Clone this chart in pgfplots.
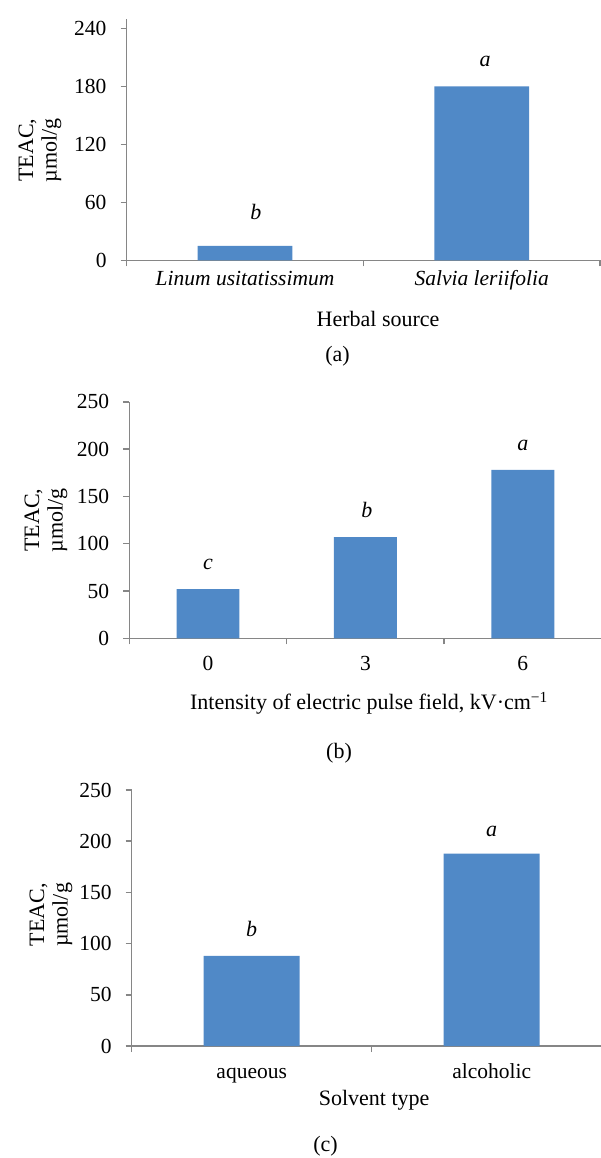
\documentclass[border=0pt]{standalone}
\usepackage{fontspec}
\setmainfont{Liberation Serif}
\usepackage{pgfplots}
\pgfplotsset{compat=1.18}
\definecolor{barblue}{RGB}{80,137,199}
\definecolor{axgray}{RGB}{134,134,134}
\pgfplotsset{
  panel/.style={
    scale only axis,
    axis x line*=bottom,
    axis y line*=left,
    axis line style={draw=axgray, line width=1.5pt},
    every tick/.style={draw=axgray, line width=1.5pt},
    tick align=outside,
    major tick length=6pt,
    minor tick length=6pt,
    ybar, bar width=0.4,
    ymin=0, xmin=-0.5,
    major x tick style={draw=none},
    clip=false,
    /pgf/number format/assume math mode=true,
    tick label style={font=\fontsize{21.5}{24}\selectfont},
    label style={font=\fontsize{22}{23.5}\selectfont},
    xticklabel style={anchor=base, inner sep=0pt},
    yticklabel style={anchor=east, inner sep=0pt, xshift=-14pt},
    ylabel style={align=center, anchor=center},
    xlabel style={anchor=base},
  },
}
\begin{document}
\fontsize{22}{24}\selectfont
\begin{tikzpicture}[x=1pt,y=1pt]
\useasboundingbox (0,0) rectangle (600,-1158);
% ---------- (a)
\begin{axis}[panel,
  at={(126.7pt,-260.3pt)}, anchor=south west,
  width=473.4pt, height=241.7pt,
  ymax=250, ytick={0,60,120,180,240},
  xmax=1.5, xtick={0,1}, minor xtick={-0.5,0.5,1.5},
  xticklabels={\textit{Linum usitatissimum},\textit{Salvia leriifolia}},
  xticklabel style={yshift=-18.7pt},
  xlabel={Herbal source},
  xlabel style={at={(axis description cs:0.531,-0.272)}},
  ylabel={TEAC,\\µmol/g},
  ylabel style={at={(axis description cs:-0.183,0.456)}},
]
\addplot[fill=barblue, draw=none] coordinates {(0,15) (1,180)};
\node[anchor=base, font=\itshape] at (axis cs:0.046,42.7) {b};
\node[anchor=base, font=\itshape] at (axis cs:1.014,200.3) {a};
\end{axis}
\node[anchor=base] at (337.5pt,-361.7pt) {(a)};
% ---------- (b)
\begin{axis}[panel,
  at={(129.3pt,-638.3pt)}, anchor=south west,
  width=472.2pt, height=236.5pt,
  ymax=250, ytick={0,50,100,150,200,250},
  xmax=2.5, xtick={0,1,2}, minor xtick={-0.5,0.5,1.5,2.5},
  xticklabels={0,3,6},
  xticklabel style={yshift=-26.4pt},
  xlabel={Intensity of electric pulse field, kV·cm\textsuperscript{−1}},
  xlabel style={at={(axis description cs:0.5076,-0.303)}},
  ylabel={TEAC,\\µmol/g},
  ylabel style={at={(axis description cs:-0.1764,0.500)}},
]
\addplot[fill=barblue, draw=none] coordinates {(0,52) (1,107) (2,178)};
\node[anchor=base, font=\itshape] at (axis cs:0,73) {c};
\node[anchor=base, font=\itshape] at (axis cs:1.01,128) {b};
\node[anchor=base, font=\itshape] at (axis cs:2,199) {a};
\end{axis}
\node[anchor=base] at (339pt,-758pt) {(b)};
% ---------- (c)
\begin{axis}[panel,
  at={(131.7pt,-1046pt)}, anchor=south west,
  width=480pt, height=256pt,
  ymax=250, ytick={0,50,100,150,200,250},
  xmax=1.5, xtick={0,1}, minor xtick={-0.5,0.5,1.5},
  xticklabels={aqueous,alcoholic},
  xticklabel style={yshift=-26.3pt},
  xlabel={Solvent type},
  xlabel style={at={(axis description cs:0.505,-0.2305)}},
  ylabel={TEAC,\\µmol/g},
  ylabel style={at={(axis description cs:-0.168,0.512)}},
]
\addplot[fill=barblue, draw=none] coordinates {(0,88) (1,188)};
\node[anchor=base, font=\itshape] at (axis cs:0,107.4) {b};
\node[anchor=base, font=\itshape] at (axis cs:1,205) {a};
\end{axis}
\node[anchor=base] at (325.6pt,-1151.7pt) {(c)};
\end{tikzpicture}
\end{document}
